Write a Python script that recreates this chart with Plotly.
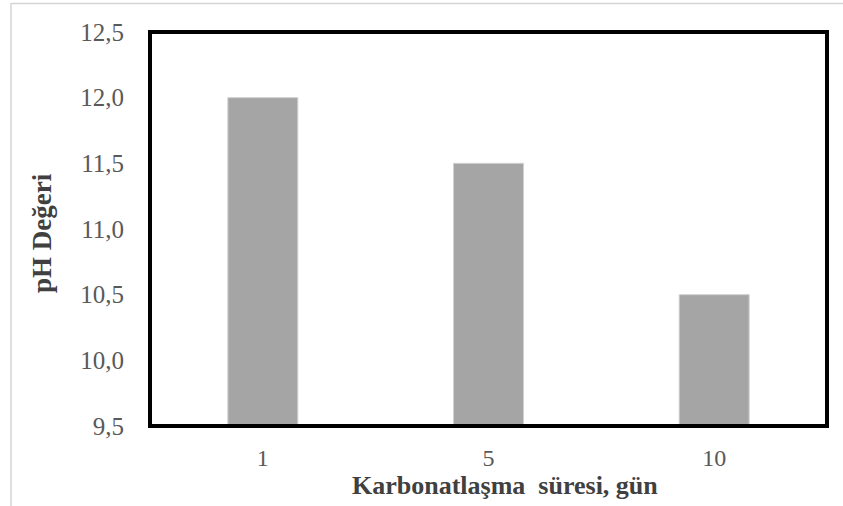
import plotly.graph_objects as go

categories = ["1", "5", "10"]
ph_values = [12.0, 11.5, 10.5]
y_min, y_max = 9.5, 12.5
y_tick_vals = [9.5, 10.0, 10.5, 11.0, 11.5, 12.0, 12.5]
y_tick_text = ["9,5", "10,0", "10,5", "11,0", "11,5", "12,0", "12,5"]
x_title = "Karbonatlaşma  süresi, gün"
y_title = "pH Değeri"

W, H = 843, 506
L, R, T, B = 150, 16, 32, 80
pw, ph = W - L - R, H - T - B

def px_x(p):
    return (p - L) / pw

def px_y(p):
    return (H - B - p) / ph

fig = go.Figure(go.Bar(
    x=categories,
    y=[v - y_min for v in ph_values],
    base=y_min,
    marker=dict(color="#a5a5a5", line=dict(color="#d0d0d0", width=1)),
))

font_family = "Liberation Serif"
fig.update_layout(
    width=W, height=H,
    margin=dict(l=L, r=R, t=T, b=B),
    paper_bgcolor="white", plot_bgcolor="white",
    showlegend=False,
    bargap=0.69,
    font=dict(family=font_family, color="#595959", size=25),
    xaxis=dict(
        type="category",
        showgrid=False, zeroline=False,
        showline=True, linecolor="#bfbfbf", linewidth=1,
        ticks="outside", ticklen=10, tickcolor="rgba(0,0,0,0)",
        tickfont=dict(family=font_family, size=24, color="#595959"),
    ),
    yaxis=dict(
        range=[y_min, y_max],
        tickvals=y_tick_vals, ticktext=y_tick_text,
        showgrid=False, zeroline=False, showline=False,
        ticks="outside", ticklen=20, tickcolor="rgba(0,0,0,0)",
        tickfont=dict(family=font_family, size=25, color="#595959"),
    ),
    annotations=[
        dict(text="<b>" + x_title + "</b>", xref="paper", yref="paper",
             x=px_x(505), y=px_y(485), xanchor="center", yanchor="middle",
             showarrow=False, font=dict(family=font_family, size=26, color="#404040")),
        dict(text="<b>" + y_title + "</b>", xref="paper", yref="paper",
             x=px_x(42), y=px_y(233), xanchor="center", yanchor="middle", textangle=-90,
             showarrow=False, font=dict(family=font_family, size=27, color="#404040")),
    ],
    shapes=[
        dict(type="rect", xref="paper", yref="paper", x0=0, x1=1, y0=0, y1=1,
             line=dict(color="black", width=4), fillcolor="rgba(0,0,0,0)", layer="above"),
        dict(type="line", xref="paper", yref="paper",
             x0=px_x(11), x1=px_x(11), y0=px_y(3), y1=px_y(520),
             line=dict(color="#d4d4d4", width=1.5)),
        dict(type="line", xref="paper", yref="paper",
             x0=px_x(11), x1=px_x(860), y0=px_y(3.5), y1=px_y(3.5),
             line=dict(color="#d4d4d4", width=1.5)),
    ],
)

fig.write_html("out.html", config={"displayModeBar": False},
               post_script="document.body.style.margin='0';document.body.style.overflow='hidden';")
